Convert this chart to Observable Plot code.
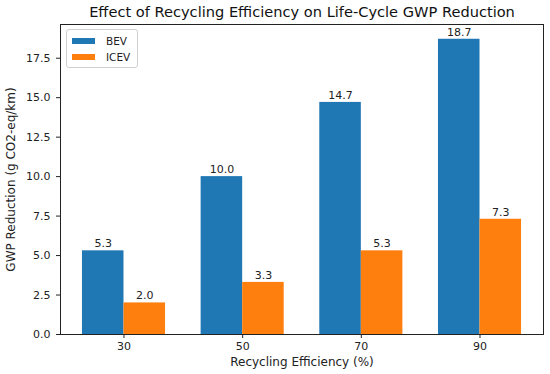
<!DOCTYPE html>
<html>
<head>
<meta charset="utf-8">
<script src="https://cdn.jsdelivr.net/npm/d3@7"></script>
<script src="https://cdn.jsdelivr.net/npm/@observablehq/plot@0.6"></script>
<style>
  html, body { margin: 0; padding: 0; background: #fff; }
  #wrap { position: relative; width: 550px; height: 374px; font-family: "DejaVu Sans", sans-serif; }
  #legend { position: absolute; left: 66px; top: 29px; width: 72px; height: 39px; border: 1px solid #d0d0d0; border-radius: 3px; background: rgba(255,255,255,0.8); box-sizing: border-box; font-size: 10.5px; color: #222; }
  .item { position: absolute; left: 5px; height: 14px; }
  .sw { position: absolute; left: 0; width: 23px; height: 6px; top: 4px; }
  .lab { position: absolute; left: 34px; top: 0; line-height: 14px; white-space: nowrap; }
</style>
</head>
<body>
<div id="wrap"></div>
<script>
const categories = ["30", "50", "70", "90"];
const seriesNames = ["BEV", "ICEV"];
const bevValues = [5.3, 10.0, 14.7, 18.7];
const icevValues = [2.0, 3.3, 5.3, 7.3];
const yTicks = [0, 2.5, 5, 7.5, 10, 12.5, 15, 17.5];
const colors = ["#1f77b4", "#ff7f0e"];

const barWidth = 0.35;
const rows = [];
categories.forEach((c, i) => {
  rows.push({i, cat: c, series: "BEV", value: bevValues[i], x1: i - barWidth, x2: i});
  rows.push({i, cat: c, series: "ICEV", value: icevValues[i], x1: i, x2: i + barWidth});
});
const yMax = d3.max(rows, d => d.value) * 1.05;
const xPad = (categories.length - 1 + 2 * barWidth) * 0.05;

const chart = Plot.plot({
  width: 550,
  height: 374,
  marginLeft: 60,
  marginRight: 7,
  marginTop: 24,
  marginBottom: 40,
  style: {fontFamily: "DejaVu Sans, sans-serif", fontSize: "11px", color: "#222", background: "white"},
  x: {domain: [-barWidth - xPad, categories.length - 1 + barWidth + xPad]},
  y: {domain: [0, yMax]},
  color: {domain: seriesNames, range: colors},
  marks: [
    Plot.rectY(rows, {x1: "x1", x2: "x2", y: "value", fill: "series"}),
    Plot.text(rows, {x: d => (d.x1 + d.x2) / 2, y: "value", text: d => d.value.toFixed(1), dy: -7, fill: "#222", fontSize: 11}),
    Plot.frame({stroke: "#222", strokeWidth: 1}),
    Plot.axisY({ticks: yTicks, tickFormat: d => d.toFixed(1), tickSize: 4, tickPadding: 6, label: null, fontSize: 11}),
    Plot.axisX({ticks: d3.range(categories.length), tickFormat: i => categories[i], tickSize: 4, tickPadding: 4, label: null, fontSize: 11}),
    Plot.text(["GWP Reduction (g CO2-eq/km)"], {frameAnchor: "left", textAnchor: "middle", lineAnchor: "middle", dx: -49, rotate: -90, fontSize: 12, fill: "#222"}),
    Plot.text(["Recycling Efficiency (%)"], {frameAnchor: "bottom", textAnchor: "middle", lineAnchor: "middle", dy: 28, fontSize: 12, fill: "#222"}),
    Plot.text(["Effect of Recycling Efficiency on Life-Cycle GWP Reduction"], {frameAnchor: "top", textAnchor: "middle", lineAnchor: "middle", dy: -12, fontSize: 14.6, fill: "#111"})
  ]
});
const wrap = document.getElementById("wrap");
wrap.appendChild(chart);

const legend = document.createElement("div");
legend.id = "legend";
seriesNames.forEach((s, k) => {
  const it = document.createElement("div");
  it.className = "item";
  it.style.top = (4 + k * 16) + "px";
  it.innerHTML = `<div class="sw" style="background:${colors[k]}"></div><div class="lab">${s}</div>`;
  legend.appendChild(it);
});
wrap.appendChild(legend);
</script>
</body>
</html>
